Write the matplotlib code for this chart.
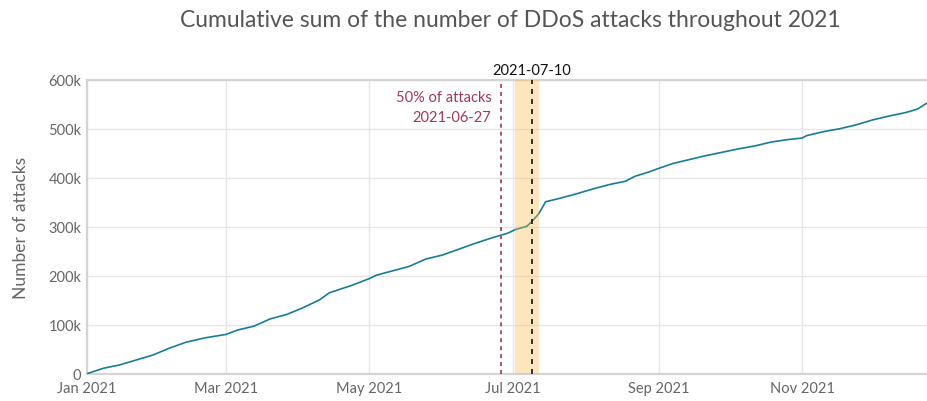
import matplotlib
matplotlib.use("Agg")
import matplotlib.pyplot as plt
import matplotlib.dates as mdates
import pandas as pd
from matplotlib.ticker import FuncFormatter

plt.rcParams['font.family'] = ['Lato', 'DejaVu Sans']

dates = ["2021-01-01", "2021-01-08", "2021-01-15", "2021-01-22", "2021-01-29",
         "2021-02-05", "2021-02-12", "2021-02-20", "2021-03-01", "2021-03-06",
         "2021-03-13", "2021-03-20", "2021-03-27", "2021-04-03", "2021-04-10",
         "2021-04-14", "2021-04-24", "2021-05-01", "2021-05-04", "2021-05-11",
         "2021-05-18", "2021-05-25", "2021-06-01", "2021-06-08", "2021-06-15",
         "2021-06-22", "2021-06-29", "2021-07-02", "2021-07-07", "2021-07-09",
         "2021-07-12", "2021-07-15", "2021-07-21", "2021-07-28", "2021-08-04",
         "2021-08-11", "2021-08-18", "2021-08-22", "2021-08-28", "2021-09-01",
         "2021-09-07", "2021-09-14", "2021-09-21", "2021-09-28", "2021-10-05",
         "2021-10-12", "2021-10-19", "2021-10-26", "2021-11-01", "2021-11-03",
         "2021-11-10", "2021-11-17", "2021-11-24", "2021-12-01", "2021-12-08",
         "2021-12-15", "2021-12-20", "2021-12-23", "2021-12-24"]
cumulative_k = [0, 11, 18, 28, 38, 52, 64, 73, 80, 89,
                97, 112, 121, 135, 151, 165, 181, 194, 201, 210,
                219, 234, 242, 254, 266, 277, 287, 294, 301, 310,
                326, 351, 358, 367, 377, 386, 393, 403, 412, 419,
                429, 437, 445, 452, 459, 465, 473, 478, 481, 486,
                494, 500, 508, 518, 526, 533, 540, 549, 552]
cumulative = [v * 1000 for v in cumulative_k]

half_label = "2021-06-27"
half_pos = "2021-06-26"
peak_label = "2021-07-10"
peak_pos = "2021-07-09"
band_start = "2021-07-02"
band_end = "2021-07-12"

x = pd.to_datetime(dates)

fig = plt.figure(figsize=(9.28, 4.02), dpi=100)
ax = fig.add_axes([0.09375, 0.068, 0.90625, 0.731])

ax.plot(x, cumulative, color="#167d94", lw=1.2, zorder=3)
ax.axvspan(pd.Timestamp(band_start), pd.Timestamp(band_end), color="#fbb944",
           alpha=0.35, lw=0, zorder=4)
ax.axvline(pd.Timestamp(half_pos), color="#a8455f", ls=(0, (2.2, 2.2)), lw=1.3, zorder=5)
ax.axvline(pd.Timestamp(peak_pos), color="#111111", ls=(0, (3, 3)), lw=1.2, zorder=5)

ax.set_xlim(pd.Timestamp("2021-01-01"), pd.Timestamp("2021-12-24 14:00"))
ax.set_ylim(0, 600000)
ax.set_yticks(range(0, 600001, 100000))
ax.yaxis.set_major_formatter(FuncFormatter(lambda v, p: "0" if v == 0 else f"{int(v/1000)}k"))
ax.xaxis.set_major_locator(mdates.MonthLocator(bymonth=[1, 3, 5, 7, 9, 11]))
ax.xaxis.set_major_formatter(mdates.DateFormatter("%b %Y"))

ax.grid(True, color="#e6e6e6", lw=1, zorder=0)
ax.set_axisbelow(True)
for s in ["left", "bottom", "top"]:
    ax.spines[s].set_color("#d4d4d4")
    ax.spines[s].set_linewidth(1.6)
ax.spines["right"].set_visible(False)
ax.tick_params(axis="both", length=0, colors="#666666", labelsize=10.5)
ax.tick_params(axis="x", pad=5)
ax.tick_params(axis="y", pad=4)

ax.set_ylabel("Number of attacks", color="#666666", fontsize=12.5, labelpad=14)

ax.text(pd.Timestamp(peak_pos), 606000, peak_label, ha="center", va="bottom",
        fontsize=10.5, color="#111111")
ax.text(pd.Timestamp(half_pos) - pd.Timedelta(days=4), 580000,
        "50% of attacks\n" + half_label, ha="right", va="top",
        fontsize=10.5, color="#a23a55", linespacing=1.6)

fig.suptitle("Cumulative sum of the number of DDoS attacks throughout 2021",
             x=0.55, y=0.975, fontsize=16.5, color="#555555")

fig.savefig("out.png", dpi=100)
